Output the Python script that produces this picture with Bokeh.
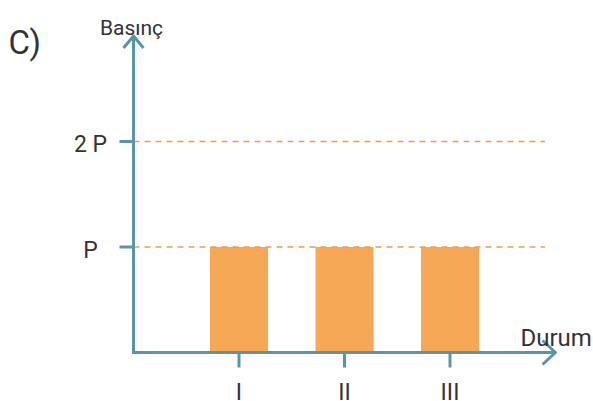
from bokeh.plotting import figure
from bokeh.models import Range1d
from bokeh.core.properties import value
from bokeh.embed import file_html
from bokeh.resources import INLINE

# ---- data ----
categories = ["I", "II", "III"]
pressure = [1, 1, 1]            # in units of P
y_ticks = [1, 2]
y_tick_labels = ["P", "2 P"]
panel_label = "C)"
y_title = "Basınç"
x_title = "Durum"

# ---- styling / layout constants ----
W, H = 593, 401
PX = 105.5                      # pixels per data unit (both axes)
ORIGIN_X, ORIGIN_Y = 133, 352   # origin position inside the canvas (px)
AXIS = "#5b96a7"
BAR = "#f7a856"
DASH = "#f59c45"
TXT = "#333333"
FONT = value("Roboto")

x0 = -ORIGIN_X / PX
y1 = ORIGIN_Y / PX
p = figure(width=W, height=H, output_backend="svg", toolbar_location=None,
           x_range=Range1d(x0, x0 + W / PX), y_range=Range1d(y1 - H / PX, y1),
           min_border=0, outline_line_color=None)
p.axis.visible = False
p.grid.visible = False
p.background_fill_color = "white"
p.border_fill_color = "white"

xs = list(range(1, len(categories) + 1))
x_end = 4.0
y_end = 3.0
u = 1 / PX

# bars
p.vbar(x=xs, top=pressure, bottom=0, width=0.55, fill_color=BAR, line_color=None)

# dashed reference lines
p.multi_line(xs=[[0, 3.9] for _ in y_ticks], ys=[[t, t] for t in y_ticks],
             line_color=DASH, line_width=1.5, line_dash="6 5")

# axes lines
p.segment(x0=[0, -1.5 * u], y0=[-1.5 * u, 0], x1=[0, x_end], y1=[y_end, 0],
          line_color=AXIS, line_width=3)
# arrow heads
p.multi_line(xs=[[-10 * u, 0, 10 * u], [x_end - 13 * u, x_end, x_end - 13 * u]],
             ys=[[y_end - 12 * u, y_end, y_end - 12 * u], [12 * u, 0, -12 * u]],
             line_color=AXIS, line_width=3, line_join="round")

# tick marks
p.segment(x0=[-14 * u] * len(y_ticks), y0=y_ticks, x1=[0] * len(y_ticks), y1=y_ticks,
          line_color=AXIS, line_width=3)
p.segment(x0=xs, y0=[0] * len(xs), x1=xs, y1=[-15 * u] * len(xs),
          line_color=AXIS, line_width=3)

# tick labels
p.text(x=[-43 * u] * len(y_ticks), y=y_ticks, text=y_tick_labels, text_font=FONT,
       text_font_size="23px", text_color=TXT, text_align="center",
       text_baseline="alphabetic", y_offset=3)
p.text(x=xs, y=[0] * len(xs), text=categories, text_font=FONT,
       text_font_size="23px", text_color=TXT, text_align="center",
       text_baseline="alphabetic", y_offset=40)

# titles
p.text(x=[-2 * u], y=[y1 - 27 * u], text=[y_title], text_font=FONT,
       text_font_size="21px", text_color=TXT, text_align="center",
       text_baseline="alphabetic")
p.text(x=[387 * u], y=[y1 - 337 * u], text=[x_title], text_font=FONT,
       text_font_size="24px", text_color=TXT, text_align="left",
       text_baseline="alphabetic")
p.text(x=[x0 + 8 * u], y=[y1 - 42 * u], text=[panel_label], text_font=FONT,
       text_font_size="33px", text_color=TXT, text_align="left",
       text_baseline="alphabetic")

open("out.html", "w").write(file_html(p, INLINE))
